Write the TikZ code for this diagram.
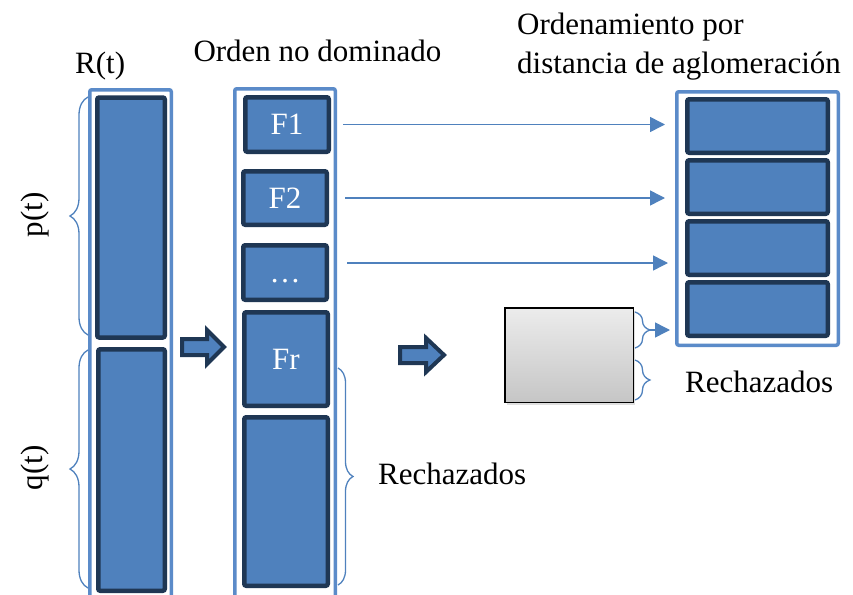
\documentclass[tikz,border=0pt]{standalone}
\usepackage{fontspec}
\setmainfont{Liberation Serif}
\usetikzlibrary{arrows.meta,decorations.pathreplacing,shadows}
\definecolor{azul}{HTML}{4F81BD}
\definecolor{marino}{HTML}{1F3754}
\definecolor{claro}{HTML}{5B8BC9}
\tikzset{
	marco/.style={draw=claro,line width=3.5pt,fill=white,rounded corners=2pt},
	bloque/.style={draw=marino,fill=azul,line width=4.5pt,rounded corners=2pt,text=white,font=\fontsize{31}{37}\selectfont},
	texto/.style={font=\fontsize{31}{39}\selectfont,inner sep=0pt},
	flecha/.style={draw=azul,line width=1.5pt,-{Triangle[length=15pt,width=15pt]}},
	llave/.style={draw=azul,line width=1.3pt,decorate,decoration={brace,amplitude=#1}},
	gruesa/.style={draw=marino,fill=azul,line width=4pt,line join=miter},
}
\begin{document}
\begin{tikzpicture}[x=1pt,y=-1pt]
	\useasboundingbox (0,0) rectangle (853,594);
	\node[marco,anchor=north,minimum width=81.5pt,minimum height=520pt] (R) at (130.5,88) {};
	\node[bloque,minimum width=67.5pt,minimum height=240pt] (p) at (131,217.5) {};
	\node[bloque,minimum width=66.5pt,minimum height=241.5pt] (q) at (131.5,470) {};
	\node[marco,anchor=north,minimum width=100.5pt,minimum height=520pt] (O) at (285,87) {};
	\node[bloque,minimum width=83.5pt,minimum height=54.5pt] (F1) at (287,124.5) {F1};
	\node[bloque,minimum width=83.5pt,minimum height=53.5pt] (F2) at (285,198) {F2};
	\node[bloque,minimum width=83.5pt,minimum height=54.5pt] (Fd) at (285,272.5) {\vphantom{F}…};
	\node[bloque,minimum width=83.5pt,minimum height=93.5pt] (Fr) at (286,359) {Fr};
	\node[bloque,minimum width=83.5pt,minimum height=168.5pt] (Fz) at (286,501.5) {};
	\node[marco,minimum width=161.5pt,minimum height=253.5pt] (S) at (757.5,218.5) {};
	\foreach \y [count=\i] in {126,187,248,309}
		\node[bloque,minimum width=140.5pt,minimum height=53.5pt] (s\i) at (757.5,\y) {};
	\node[draw=black,line width=1.5pt,minimum width=128.5pt,minimum height=94.5pt,top color=gray!15,bottom color=gray!45,drop shadow={shadow xshift=2pt,shadow yshift=-3pt,opacity=.25}] (G) at (569,355) {};
	\draw[gruesa] (182,339) -- (207,339) -- (207,330) -- (224,347) -- (207,364) -- (207,355) -- (182,355) -- cycle;
	\draw[gruesa] (400,347) -- (426,347) -- (426,338) -- (444,355) -- (426,372) -- (426,363) -- (400,363) -- cycle;
	\draw[llave=18pt] (88,335) -- (88,97);
	\draw[llave=18pt] (88,588) -- (88,350);
	\draw[llave=15pt] (338,368) -- (338,585);
	\draw[llave=15pt] (635,312) -- (635,348);
	\draw[llave=15pt] (635,360) -- (635,400);
	\coordinate (g1) at (650,330);
	\draw[flecha,shorten <=12pt,shorten >=20pt] (F1.east) -- (F1.east -| s1.west);
	\draw[flecha,shorten <=16pt,shorten >=20pt] (F2.east) -- (F2.east -| s2.west);
	\draw[flecha,shorten <=18pt,shorten >=17pt] ([yshift=9.5pt]Fd.east) -- ([yshift=9.5pt]Fd.east -| s3.west);
	\draw[flecha,dash pattern=on 5pt off 3pt,shorten >=15pt] (g1) -- (g1 -| s4.west);
	\node[texto,anchor=base west] (tR) at (75,73.5) {R(t)};
	\node[texto,anchor=base] (tO) at (317.5,62) {Orden no dominado};
	\node[texto,anchor=north west,align=left] (tD) at (517,12.5) {Ordenamiento por\\distancia de aglomeración};
	\node[texto,anchor=base west] (tRz1) at (378,484) {Rechazados};
	\node[texto,anchor=base west] (tRz2) at (685,392) {Rechazados};
	\node[texto,rotate=90] (tp) at (35,215) {p(t)};
	\node[texto,rotate=90] (tq) at (35,468) {q(t)};
\end{tikzpicture}
\end{document}
